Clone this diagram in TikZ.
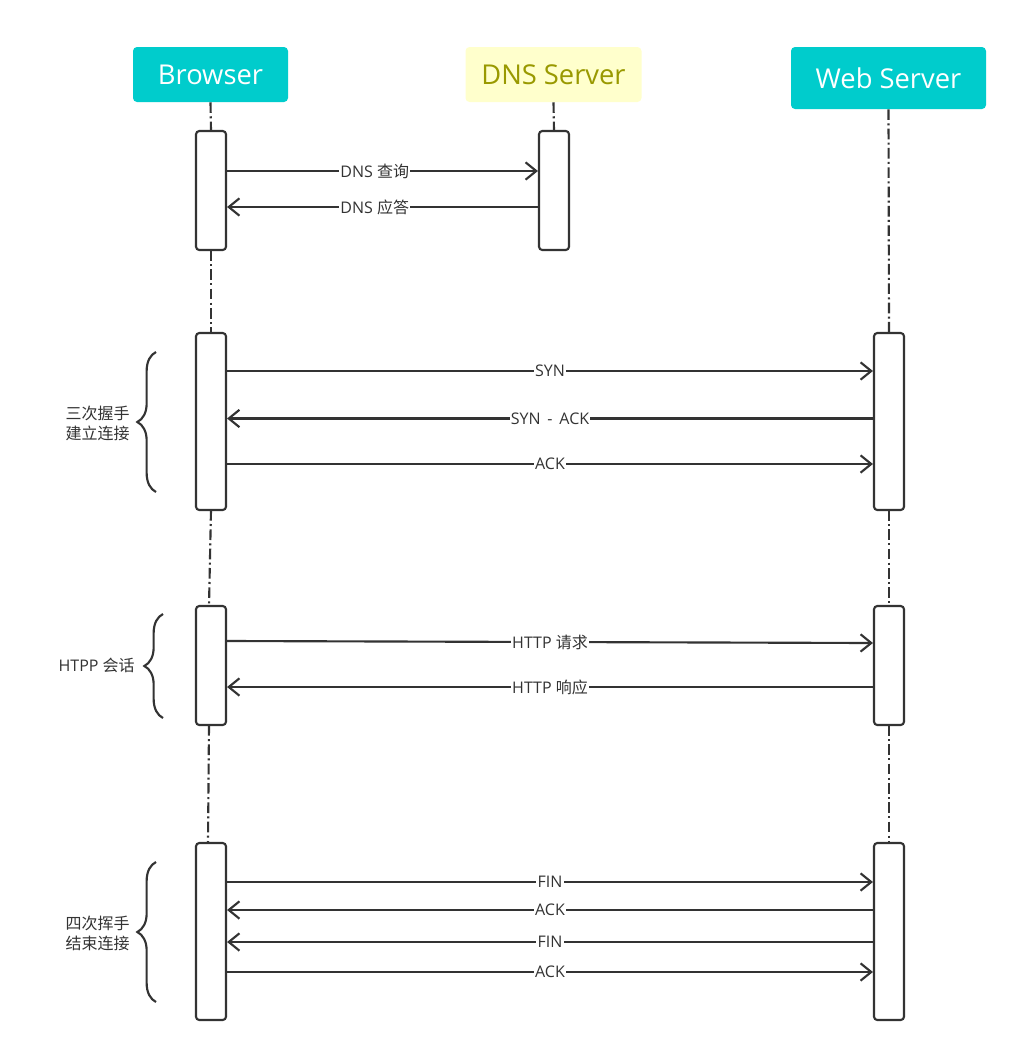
\documentclass[tikz,border=0pt]{standalone}
\usepackage{fontspec}
\setmainfont{Open Sans}
\newfontfamily\cjk{Noto Sans CJK SC}
\usetikzlibrary{arrows.meta,decorations.pathreplacing}
\definecolor{teal0}{HTML}{00CCCC}
\definecolor{yel}{HTML}{FFFFCC}
\definecolor{olive0}{HTML}{999900}
\definecolor{ink}{HTML}{333333}
\begin{document}
\begin{tikzpicture}[x=0.75pt,y=-0.75pt,
  hdr/.style={rounded corners=3pt, inner sep=0pt, font=\fontsize{20.5}{24}\selectfont},
  act/.style={draw=ink, line width=1.6pt, rounded corners=2.5pt, fill=white, minimum width=22.5pt, inner sep=0pt},
  life/.style={draw=ink, line width=1.6pt, dash pattern=on 8pt off 2.5pt on 1.5pt off 2.5pt},
  msg/.style={draw=ink, line width=1.6pt, -{Straight Barb[length=8pt,width=13pt]}},
  lbl/.style={fill=white, text=ink, inner sep=1pt, font=\fontsize{12}{15}\selectfont},
  brc/.style={draw=ink, line width=1.6pt, decorate, decoration={brace, amplitude=14pt}},
  side/.style={text=ink, align=center, anchor=east, inner sep=0pt, font=\fontsize{12}{15}\selectfont}]
\useasboundingbox[fill=white] (0,0) rectangle (1017,1053);

% headers
\node[hdr, fill=teal0, text=white, minimum width=116.25pt, minimum height=41.25pt] (br) at (210.5,74.5) {Browser};
\node[hdr, fill=yel, text=olive0, minimum width=132pt, minimum height=41.25pt] (dns) at (553.5,74.5) {DNS Server};
\node[hdr, fill=teal0, text=white, minimum width=146.25pt, minimum height=46.5pt] (web) at (888.5,78) {Web Server};

% lifeline end points at activation boxes
\path (211,131) coordinate (b1t) (211,250) coordinate (b1b)
      (211,333) coordinate (b2t) (211,510) coordinate (b2b)
      (209,606) coordinate (b3t) (209,725) coordinate (b3b)
      (208,843) coordinate (b4t)
      (554,131) coordinate (d1t)
      (889,333) coordinate (w2t) (889,510) coordinate (w2b)
      (889,606) coordinate (w3t) (889,725) coordinate (w3b)
      (889,843) coordinate (w4t);

% lifelines
\draw[life] (br.south) -- (b1t);
\draw[life] (b1b) -- (b2t);
\draw[life] (b2b) -- (b3t);
\draw[life] (b3b) -- (b4t);
\draw[life] (dns.south) -- (d1t);
\draw[life] (web.south) -- (w2t);
\draw[life] (w2b) -- (w3t);
\draw[life] (w3b) -- (w4t);

% activations
\node[act, minimum height=89.25pt] (b1) at (211,190.5) {};
\node[act, minimum height=89.25pt] (d1) at (554,190.5) {};
\node[act, minimum height=132.75pt] (b2) at (211,421.5) {};
\node[act, minimum height=132.75pt] (w2) at (889,421.5) {};
\node[act, minimum height=89.25pt] (b3) at (211,665.5) {};
\node[act, minimum height=89.25pt] (w3) at (889,665.5) {};
\node[act, minimum height=132.75pt] (b4) at (211,931.5) {};
\node[act, minimum height=132.75pt] (w4) at (889,931.5) {};

% message heights
\path (0,171) coordinate (y1) (0,207) coordinate (y2)
      (0,371) coordinate (y3) (0,418.5) coordinate (y4) (0,464) coordinate (y5)
      (0,641) coordinate (y6a) (0,643) coordinate (y6b) (0,687) coordinate (y7)
      (0,882) coordinate (y8) (0,910) coordinate (y9) (0,942) coordinate (y10) (0,972) coordinate (y11);

\draw[msg] (b1.east |- y1) -- (d1.west |- y1) node[lbl, pos=0.475] (m1) {DNS {\cjk 查询}};
\draw[msg] (d1.west |- y2) -- (b1.east |- y2) node[lbl, pos=0.525] (m2) {DNS {\cjk 应答}};

\draw[msg] (b2.east |- y3) -- (w2.west |- y3) node[lbl, midway] (m3) {SYN};
\draw[msg] (w2.west |- y4) -- (b2.east |- y4) node[lbl, midway] (m4) {SYN\ \,-\ \,ACK};
\draw[msg] (b2.east |- y5) -- (w2.west |- y5) node[lbl, midway] (m5) {ACK};

\draw[msg] (b3.east |- y6a) -- (w3.west |- y6b) node[lbl, midway] (m6) {HTTP {\cjk 请求}};
\draw[msg] (w3.west |- y7) -- (b3.east |- y7) node[lbl, midway] (m7) {HTTP {\cjk 响应}};

\draw[msg] (b4.east |- y8) -- (w4.west |- y8) node[lbl, midway] (m8) {FIN};
\draw[msg] (w4.west |- y9) -- (b4.east |- y9) node[lbl, midway] (m9) {ACK};
\draw[msg] (w4.west |- y10) -- (b4.east |- y10) node[lbl, midway] (m10) {FIN\ };
\draw[msg] (b4.east |- y11) -- (w4.west |- y11) node[lbl, midway] (m11) {ACK};

% braces
\draw[brc] (156,492) -- (156,352);
\draw[brc] (163,718) -- (163,614);
\draw[brc] (156,1002) -- (156,862);

\node[side] (s1) at (130,423) {{\cjk 三次握手}\\{\cjk 建立连接}};
\node[side] (s2) at (135,665) {HTPP {\cjk 会话}};
\node[side] (s3) at (130,933) {{\cjk 四次挥手}\\{\cjk 结束连接}};
\end{tikzpicture}
\end{document}
